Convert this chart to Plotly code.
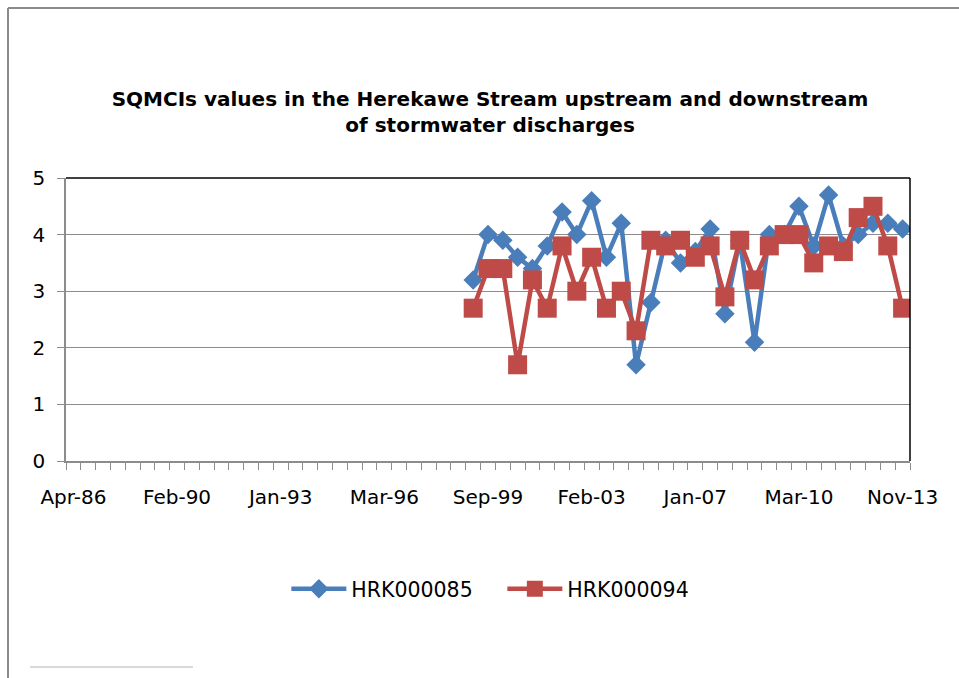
import plotly.graph_objects as go

# ---- data ----
n_categories = 57            # sampling-date categories on the x axis (Apr-86 ... Nov-13)
label_positions = [0, 7, 14, 21, 28, 35, 42, 49, 56]
tick_labels = ["Apr-86", "Feb-90", "Jan-93", "Mar-96", "Sep-99",
               "Feb-03", "Jan-07", "Mar-10", "Nov-13"]
first_data_category = 27

hrk000085 = [3.2, 4.0, 3.9, 3.6, 3.4, 3.8, 4.4, 4.0, 4.6, 3.6,
             4.2, 1.7, 2.8, 3.9, 3.5, 3.7, 4.1, 2.6, 3.9, 2.1,
             4.0, 4.0, 4.5, 3.8, 4.7, 3.8, 4.0, 4.2, 4.2, 4.1]
hrk000094 = [2.7, 3.4, 3.4, 1.7, 3.2, 2.7, 3.8, 3.0, 3.6, 2.7,
             3.0, 2.3, 3.9, 3.8, 3.9, 3.6, 3.8, 2.9, 3.9, 3.2,
             3.8, 4.0, 4.0, 3.5, 3.8, 3.7, 4.3, 4.5, 3.8, 2.7]

x_idx = list(range(first_data_category, first_data_category + len(hrk000085)))

BLUE = "#4A7EBB"
RED = "#BE4B48"
GRID = "#8C8C8C"
FONT = "DejaVu Sans"

W, H = 959, 678
L, R, T, B = 66, 49, 178, 217
pw, ph = W - L - R, H - T - B

def px_x(px):
    return (px - L) / pw

def px_y(py):
    return (H - B - py) / ph

fig = go.Figure()
fig.add_trace(go.Scatter(
    x=x_idx, y=hrk000085, name="HRK000085", mode="lines+markers",
    line=dict(color=BLUE, width=4.5),
    marker=dict(symbol="diamond", size=15, color=BLUE),
))
fig.add_trace(go.Scatter(
    x=x_idx, y=hrk000094, name="HRK000094", mode="lines+markers",
    line=dict(color=RED, width=4.5),
    marker=dict(symbol="square", size=19, color=RED),
))

minor_ticks = [k - 0.5 for k in range(n_categories + 1)]

fig.update_layout(
    width=W, height=H,
    margin=dict(l=L, r=R, t=T, b=B),
    paper_bgcolor="white", plot_bgcolor="white",
    font=dict(family=FONT, size=20, color="black"),
    title=dict(
        text="<b>SQMCIs values in the Herekawe Stream upstream and downstream<br>of stormwater discharges</b>",
        x=0.511, xanchor="center", y=1 - 106 / H, yanchor="top",
        font=dict(family=FONT, size=20, color="black"),
    ),
    xaxis=dict(
        range=[-0.5, n_categories - 0.5],
        tickmode="array", tickvals=label_positions, ticktext=tick_labels,
        ticks="", showgrid=False, zeroline=False,
        showline=True, linecolor=GRID, linewidth=1.5,
        tickfont=dict(family=FONT, size=20),
        ticklabelstandoff=17,
        minor=dict(tickmode="array", tickvals=minor_ticks, ticks="outside",
                   ticklen=7, tickcolor=GRID, tickwidth=1, showgrid=False),
    ),
    yaxis=dict(
        range=[0, 5], dtick=1, tick0=0,
        showgrid=True, gridcolor=GRID, gridwidth=1.2,
        zeroline=False, showline=True, linecolor=GRID, linewidth=1.5,
        ticks="outside", ticklen=7, tickcolor=GRID,
        tickfont=dict(family=FONT, size=20),
        ticklabelstandoff=8,
    ),
    showlegend=True,
    legend=dict(
        orientation="h", x=0.517, xanchor="center",
        y=px_y(589), yanchor="middle",
        font=dict(family=FONT, size=20.5),
        itemwidth=55, entrywidth=146, tracegroupgap=0,
    ),
    shapes=[
        # plot-area top and right borders (black)
        dict(type="line", xref="paper", yref="paper", x0=0, x1=1, y0=1, y1=1,
             line=dict(color="black", width=1.5)),
        dict(type="line", xref="paper", yref="paper", x0=1, x1=1, y0=0, y1=1,
             line=dict(color="black", width=1.5)),
        # outer chart frame (left and top edges visible)
        dict(type="line", xref="paper", yref="paper", x0=px_x(8), x1=px_x(8),
             y0=px_y(8), y1=px_y(H + 5), line=dict(color="#8A8A8A", width=2)),
        dict(type="line", xref="paper", yref="paper", x0=px_x(8), x1=px_x(W + 5),
             y0=px_y(8), y1=px_y(8), line=dict(color="#8A8A8A", width=2)),
        # footnote separator
        dict(type="line", xref="paper", yref="paper", x0=px_x(30), x1=px_x(193),
             y0=px_y(667), y1=px_y(667), line=dict(color="#B4B4B4", width=1)),
    ],
)

fig.write_html("out.html")
